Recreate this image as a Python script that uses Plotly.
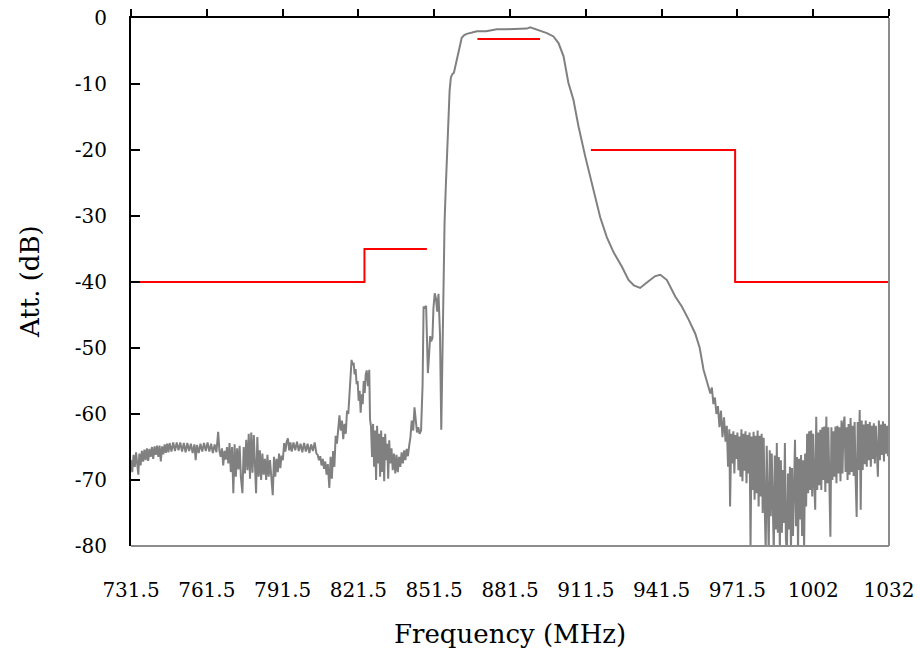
import plotly.graph_objects as go

# ---------------- measured response (gray trace) ----------------
seg_a_freq = [731.5, 732.0, 732.5, 733.0, 733.5, 734.0, 734.4, 734.8, 735.3, 735.8,
              736.3, 736.8, 737.3, 737.8, 738.3, 738.8, 739.3, 739.8, 740.3, 740.8,
              741.3, 741.8, 742.3, 742.8, 743.3, 743.8, 744.3, 744.8, 745.3, 745.8,
              746.3, 746.8, 747.5, 748.2, 748.9, 749.6, 750.3, 751.0, 751.7, 752.4,
              753.1, 753.8, 754.5, 755.2, 755.9, 756.6, 757.1, 757.6, 758.3, 759.0,
              759.7, 760.4, 761.1, 761.8, 762.5, 763.2, 763.9, 764.6, 765.3, 766.0,
              766.5]
seg_a_att = [-67.0, -68.8, -66.2, -68.0, -65.8, -67.6, -69.2, -66.0, -67.8, -65.6,
             -67.2, -65.4, -67.0, -65.2, -67.1, -65.3, -66.5, -65.0, -66.8, -64.9,
             -66.2, -64.8, -66.5, -64.8, -67.2, -64.9, -66.1, -64.6, -65.9, -64.5,
             -65.8, -64.4, -65.7, -64.3, -65.6, -64.3, -65.5, -64.3, -65.7, -64.4,
             -65.8, -64.4, -65.6, -64.5, -65.9, -64.6, -67.0, -64.7, -65.9, -64.5,
             -65.7, -64.4, -65.6, -64.3, -65.7, -64.5, -65.9, -64.6, -65.8, -62.7,
             -65.6]

seg_b_freq = [767.0, 767.5, 768.0, 768.5, 769.0, 769.5, 770.0, 770.5, 771.0, 771.5,
              772.0, 772.5, 773.0, 773.5, 774.0, 774.5, 775.0, 775.6, 776.1, 776.6,
              777.1, 777.6, 778.1, 778.6, 779.1, 779.6, 780.1, 780.6, 781.0, 781.5,
              782.0, 782.5, 783.0, 783.5, 784.0, 784.5, 785.0, 785.5, 786.0, 786.5,
              787.0, 787.6, 788.1, 788.6, 789.1, 789.6, 790.1, 790.6, 791.1, 791.6]
seg_b_att = [-66.5, -65.2, -67.8, -65.6, -66.9, -65.0, -67.5, -64.4, -68.8, -65.0,
             -72.0, -64.6, -69.5, -65.2, -68.4, -64.8, -69.6, -72.0, -65.0, -69.0,
             -63.9, -68.5, -63.0, -69.8, -62.8, -68.9, -63.2, -70.0, -72.0, -63.5,
             -69.5, -65.5, -70.0, -66.0, -69.2, -66.8, -70.0, -66.2, -69.5, -67.0,
             -70.2, -72.3, -66.5, -69.5, -66.8, -68.8, -66.0, -68.2, -66.3, -67.0]

seg_c_freq = [792.1, 792.6, 793.1, 793.6, 794.1, 794.6, 795.1, 795.8, 796.5, 797.2,
              797.9, 798.6, 799.3, 800.0, 800.7, 801.4, 802.1, 802.8, 803.5, 804.2,
              804.9, 805.4, 805.9, 806.4, 806.9, 807.4, 807.9, 808.4, 808.9, 809.4,
              810.0, 810.5, 811.0, 811.5, 812.0]
seg_c_att = [-64.4, -65.7, -64.2, -63.7, -65.5, -64.3, -65.7, -64.3, -65.5, -64.2,
             -65.6, -64.5, -65.8, -64.4, -65.7, -64.5, -65.9, -64.6, -65.6, -64.3,
             -66.0, -66.2, -67.0, -66.4, -67.8, -66.8, -68.3, -67.2, -69.2, -67.6,
             -71.2, -66.5, -69.8, -65.6, -68.0]

seg_d_freq = [812.5, 813.0, 813.5, 814.0, 814.5, 815.0, 815.5, 816.0, 816.5, 817.0,
              817.5, 818.0, 818.4, 818.8, 819.2, 819.6, 820.0, 820.4, 820.8, 821.2,
              821.6, 822.0, 822.4, 822.8, 823.2, 823.6, 824.0, 824.4, 824.8, 825.3,
              825.8, 826.1]
seg_d_att = [-63.3, -64.5, -61.8, -60.2, -62.5, -61.0, -63.8, -61.5, -63.0, -59.5,
             -60.0, -57.0, -53.5, -51.8, -52.6, -52.2, -54.0, -53.2, -55.5, -55.0,
             -58.0, -56.5, -59.8, -57.0, -58.5, -55.0, -56.8, -54.0, -53.4, -55.8,
             -53.3, -60.8]

seg_e_freq = [826.5, 826.9, 827.3, 827.7, 828.1, 828.5, 828.9, 829.3, 829.7, 830.1,
              830.5, 830.9, 831.3, 831.7, 832.1, 832.5, 832.9, 833.3, 833.7, 834.1,
              834.6, 835.1, 835.6, 836.1, 836.6, 837.1, 837.6, 838.1, 838.6, 839.1,
              839.6, 840.1, 840.6, 841.1, 841.6, 842.1, 842.6, 843.2, 843.7, 844.2,
              844.7, 845.2, 845.7, 846.3]
seg_e_att = [-62.0, -66.5, -61.5, -68.0, -62.5, -70.0, -61.8, -67.5, -63.0, -69.5,
             -62.5, -68.8, -63.5, -70.2, -63.0, -67.0, -64.5, -69.8, -64.0, -67.5,
             -65.2, -68.5, -66.0, -69.0, -66.2, -68.8, -66.5, -68.0, -65.8, -67.5,
             -65.5, -67.0, -65.3, -66.4, -64.8, -63.5, -61.0, -62.5, -59.0, -61.5,
             -62.8, -62.0, -63.0, -62.5]

seg_f_freq = [846.9, 847.3, 847.8, 848.3, 848.6, 849.0, 849.4, 849.9, 850.3, 850.8,
              851.2, 851.7, 852.2, 852.7, 853.2, 853.8, 854.3, 854.7, 855.2, 855.6,
              856.1, 856.6, 857.1, 857.6, 858.1, 858.7, 859.3, 859.8, 860.4, 861.1,
              861.7, 862.4, 863.4, 864.4, 866.5, 868.4]
seg_f_att = [-55.6, -43.7, -44.0, -43.6, -50.0, -53.8, -51.5, -48.2, -49.0, -48.5,
             -44.0, -41.7, -42.5, -44.5, -41.8, -48.0, -62.4, -50.0, -38.6, -31.0,
             -25.5, -20.0, -13.6, -11.0, -9.0, -8.5, -8.3, -7.4, -6.5, -5.3,
             -4.5, -3.0, -2.6, -2.4, -2.2, -2.0]

seg_g_freq = [872.0, 876.3, 880.0, 884.0, 888.2, 889.5, 891.0, 893.4, 896.1, 898.7,
              900.7, 902.7, 904.6, 906.6, 908.6, 911.3, 913.2, 915.2, 917.2, 919.8,
              922.5, 925.8, 928.4, 930.5, 933.0, 936.3, 939.0, 941.0, 943.6, 946.9,
              949.5, 952.2, 954.8, 956.6, 958.1, 960.8, 961.4, 962.0, 962.6, 963.2,
              963.8, 964.4, 965.0, 965.6, 966.2, 966.8, 967.3, 967.8, 968.3, 968.6]
seg_g_att = [-2.0, -1.7, -1.7, -1.65, -1.6, -1.4, -1.6, -1.9, -2.3, -2.8,
             -3.8, -5.8, -9.8, -12.4, -16.4, -21.0, -24.0, -27.0, -30.2, -33.2,
             -35.5, -37.7, -39.7, -40.5, -40.9, -39.9, -39.1, -38.9, -39.7, -42.2,
             -43.7, -45.7, -47.8, -50.0, -53.3, -56.9, -56.0, -58.5, -57.5, -60.0,
             -58.8, -62.0, -59.5, -63.5, -60.5, -64.2, -61.8, -68.0, -62.3, -74.0]

seg_h_freq = [969.1, 969.5, 969.9, 970.3, 970.7, 971.1, 971.5, 971.9, 972.3, 972.7,
              973.1, 973.5, 973.9, 974.3, 974.7, 975.1, 975.5, 975.9, 976.3, 976.7,
              977.1, 977.5, 977.9, 978.3, 978.7, 979.1, 979.5, 979.9, 980.3, 980.7,
              981.1, 981.5, 981.9, 982.3, 982.7, 983.1, 983.5, 983.9, 984.3, 984.7,
              985.1, 985.5, 985.9, 986.3, 986.7, 987.1, 987.5, 987.9, 988.3, 988.7,
              989.1, 989.5, 989.9, 990.3, 990.7, 991.1, 991.5, 991.9, 992.3, 992.7,
              993.1, 993.5, 993.9, 994.3, 994.7, 995.1, 995.5, 995.9, 996.3, 996.7,
              997.1, 997.5, 997.9, 998.3, 998.7, 999.1, 999.5, 999.9, 1000.3, 1000.7,
              1001.1, 1001.5, 1001.9, 1002.3, 1002.7, 1003.1, 1003.5, 1003.9, 1004.3, 1004.7,
              1005.1, 1005.5, 1005.9, 1006.3, 1006.7, 1007.1, 1007.5, 1007.9, 1008.3, 1008.7,
              1009.1, 1009.5, 1009.9, 1010.3, 1010.7, 1011.1, 1011.5, 1011.9, 1012.3, 1012.7,
              1013.1, 1013.5, 1013.9, 1014.3, 1014.7, 1015.1, 1015.5, 1015.9, 1016.3, 1016.7,
              1017.1, 1017.5, 1017.9, 1018.3, 1018.7, 1019.1, 1019.5, 1019.9, 1020.3, 1020.7,
              1021.1, 1021.5, 1021.9, 1022.3, 1022.7, 1023.1, 1023.5, 1023.9, 1024.3, 1024.7,
              1025.1, 1025.5, 1025.9, 1026.3, 1026.7, 1027.1, 1027.5, 1027.9, 1028.3, 1028.7,
              1029.1, 1029.5, 1029.9, 1030.3, 1030.7, 1031.1, 1031.5]
seg_h_att = [-63.0, -67.5, -62.6, -69.0, -63.2, -66.8, -62.8, -68.5, -63.4, -69.5,
             -62.3, -70.2, -63.0, -68.6, -62.6, -70.5, -63.2, -69.0, -62.8, -80.5,
             -63.4, -71.5, -62.7, -73.0, -63.3, -72.0, -62.5, -74.0, -63.3, -72.5,
             -63.0, -75.0, -63.6, -74.0, -81.0, -64.8, -76.0, -81.0, -65.5, -75.5,
             -66.0, -77.0, -81.0, -66.3, -77.5, -64.4, -78.0, -66.5, -81.0, -67.0,
             -78.0, -68.5, -76.5, -64.4, -79.0, -81.0, -69.0, -77.5, -68.0, -81.0,
             -68.2, -78.5, -67.0, -63.9, -77.0, -66.5, -81.0, -66.8, -76.0, -66.2,
             -78.5, -67.0, -81.0, -66.0, -74.0, -63.0, -72.0, -62.6, -71.5, -62.5,
             -72.5, -63.0, -70.5, -74.5, -60.4, -71.5, -62.8, -70.8, -62.4, -71.5,
             -62.0, -70.0, -61.9, -71.8, -60.4, -70.5, -62.0, -71.2, -78.6, -62.0,
             -70.0, -62.6, -69.5, -61.9, -70.5, -61.8, -69.0, -62.0, -70.2, -61.0,
             -69.0, -61.5, -60.4, -68.8, -62.0, -70.0, -61.5, -69.2, -60.6, -68.8,
             -61.8, -69.4, -61.2, -70.0, -75.6, -61.2, -68.5, -59.4, -74.5, -61.0,
             -68.5, -61.6, -67.6, -61.0, -68.0, -61.5, -67.0, -61.2, -68.0, -61.8,
             -66.8, -61.4, -67.5, -61.8, -66.5, -69.5, -61.0, -67.0, -61.6, -66.2,
             -61.1, -67.2, -61.5, -66.0, -61.8, -66.4, -61.6]

# ---------------- specification mask (red) ----------------
mask_low_freq = [731.5, 823.9, 823.9, 848.6]
mask_low_att = [-40, -40, -35, -35]
mask_pass_freq = [868.6, 893.4]
mask_pass_att = [-3.2, -3.2]
mask_high_freq = [913.5, 970.6, 970.6, 1031.5]
mask_high_att = [-20, -20, -40, -40]

# ---------------- axes ----------------
x_tick_vals = [731.5, 761.5, 791.5, 821.5, 851.5, 881.5, 911.5, 941.5, 971.5, 1001.5, 1031.5]
x_tick_text = ["731.5", "761.5", "791.5", "821.5", "851.5", "881.5", "911.5", "941.5",
               "971.5", "1002", "1032"]
y_tick_vals = [0, -10, -20, -30, -40, -50, -60, -70, -80]
y_tick_text = ["0", "-10", "-20", "-30", "-40", "-50", "-60", "-70", "-80"]

freq = seg_a_freq + seg_b_freq + seg_c_freq + seg_d_freq + seg_e_freq + seg_f_freq + seg_g_freq + seg_h_freq
att = seg_a_att + seg_b_att + seg_c_att + seg_d_att + seg_e_att + seg_f_att + seg_g_att + seg_h_att
assert len(freq) == len(att)

FONT = "DejaVu Serif"
GRAY = "#808080"
RED = "#ff0000"

fig = go.Figure()
fig.add_trace(go.Scatter(x=freq, y=att, mode="lines",
                         line=dict(color=GRAY, width=2), xaxis="x", yaxis="y",
                         hoverinfo="skip"))
for fx, fy in [(mask_low_freq, mask_low_att), (mask_pass_freq, mask_pass_att),
               (mask_high_freq, mask_high_att)]:
    fig.add_trace(go.Scatter(x=fx, y=fy, mode="lines",
                             line=dict(color=RED, width=2), xaxis="x2", yaxis="y",
                             hoverinfo="skip"))

xr = [731.5, 1031.5]
fig.update_layout(
    width=920, height=655,
    margin=dict(l=131, r=31, t=18, b=109, autoexpand=False),
    paper_bgcolor="white", plot_bgcolor="white",
    showlegend=False,
    xaxis=dict(range=xr, tickmode="array", tickvals=x_tick_vals, ticktext=x_tick_text,
               ticks="", showline=False, showgrid=False, zeroline=False,
               tickfont=dict(family=FONT, size=20, color="black"),
               ticklabelstandoff=30, automargin=False),
    xaxis2=dict(range=xr, overlaying="x", side="top", anchor="y",
                tickmode="array", tickvals=x_tick_vals, showticklabels=False,
                ticks="outside", ticklen=7, tickwidth=2, tickcolor="black",
                showline=True, linecolor="black", linewidth=2,
                showgrid=False, zeroline=False),
    yaxis=dict(range=[-80, 0], tickmode="array", tickvals=y_tick_vals, ticktext=y_tick_text,
               ticks="inside", ticklen=9, tickwidth=2, tickcolor="black",
               showline=True, linecolor="black", linewidth=2,
               showgrid=False, zeroline=False,
               tickfont=dict(family=FONT, size=20, color="black"),
               ticklabelstandoff=18, automargin=False),
    shapes=[
        dict(type="line", xref="paper", yref="paper", x0=1, x1=1, y0=0, y1=1,
             line=dict(color="#8c8c8c", width=2), layer="above"),
        dict(type="line", xref="paper", yref="paper", x0=0, x1=1, y0=0, y1=0,
             line=dict(color="#8c8c8c", width=2), layer="above"),
    ],
    annotations=[
        dict(text="Frequency (MHz)", xref="paper", yref="paper", x=0.5, y=-0.167,
             xanchor="center", yanchor="middle", showarrow=False,
             font=dict(family=FONT, size=26, color="black")),
        dict(text="Att. (dB)", xref="paper", yref="paper", x=-0.1332, y=0.5,
             xanchor="center", yanchor="middle", textangle=-90, showarrow=False,
             font=dict(family=FONT, size=26, color="black")),
    ],
)

fig.write_html("out.html")
